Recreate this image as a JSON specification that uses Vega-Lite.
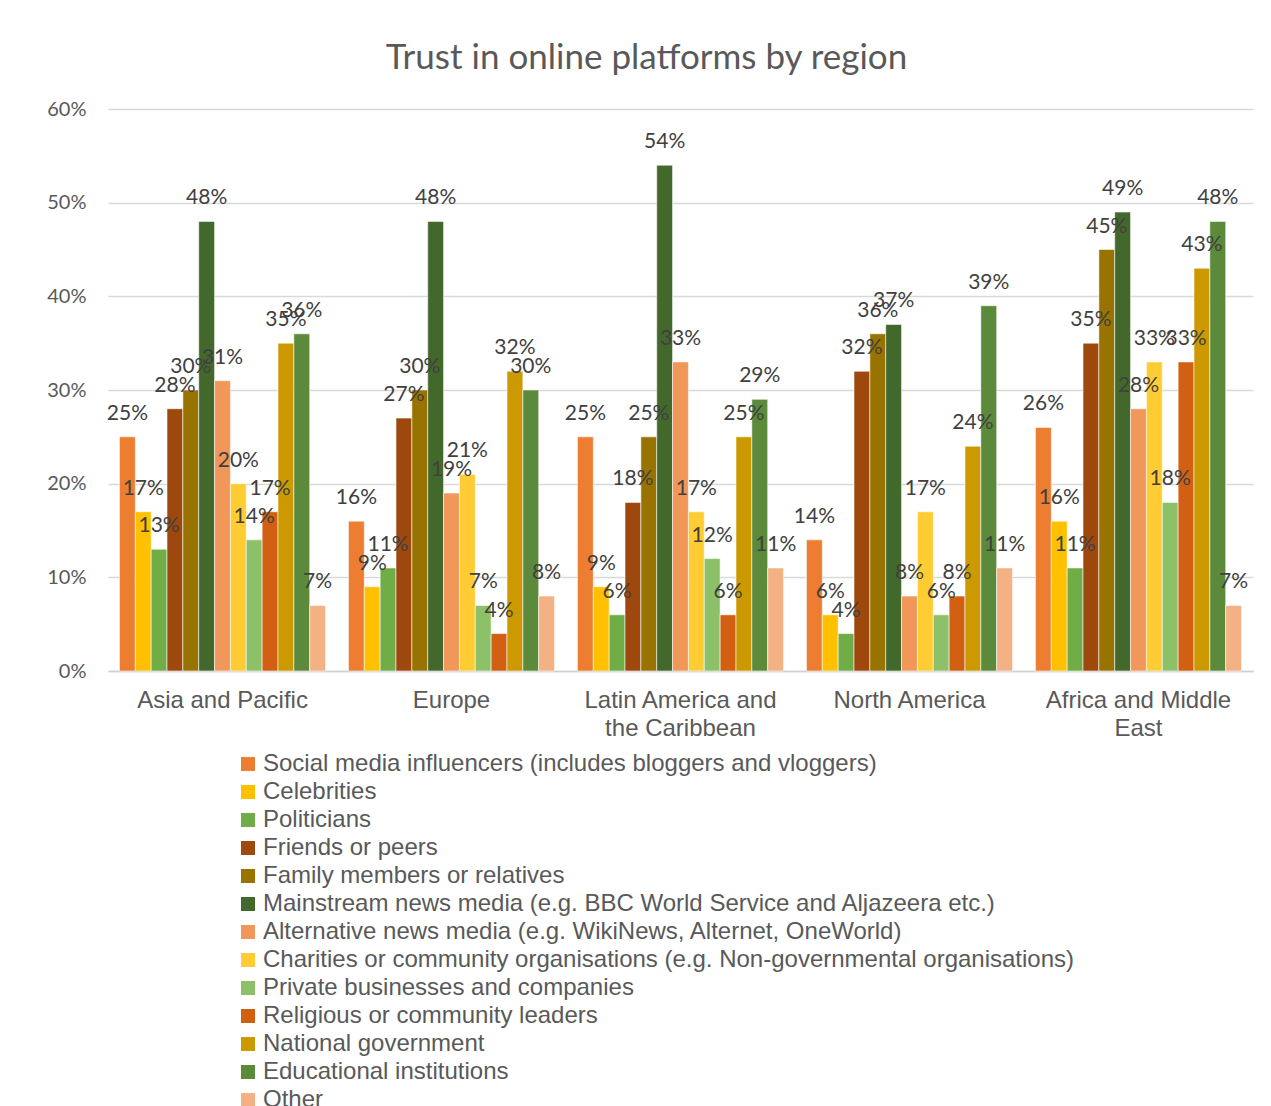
{
  "$schema": "https://vega.github.io/schema/vega-lite/v6.json",
  "autosize": "none",
  "width": 1145,
  "height": 562,
  "padding": {"left": 108, "top": 109, "right": 18, "bottom": 435},
  "background": "white",
  "title": {
    "text": "Trust in online platforms by region",
    "font": "Lato",
    "fontSize": 35,
    "fontWeight": "normal",
    "color": "#595959",
    "anchor": "middle",
    "dx": -34,
    "offset": 23
  },
  "data": {
    "values": [
      {"region": "Asia and Pacific", "source": "Social media influencers (includes bloggers and vloggers)", "value": 0.25},
      {"region": "Asia and Pacific", "source": "Celebrities", "value": 0.17},
      {"region": "Asia and Pacific", "source": "Politicians", "value": 0.13},
      {"region": "Asia and Pacific", "source": "Friends or peers", "value": 0.28},
      {"region": "Asia and Pacific", "source": "Family members or relatives", "value": 0.30},
      {"region": "Asia and Pacific", "source": "Mainstream news media (e.g. BBC World Service and Aljazeera etc.)", "value": 0.48},
      {"region": "Asia and Pacific", "source": "Alternative news media (e.g. WikiNews, Alternet, OneWorld)", "value": 0.31},
      {"region": "Asia and Pacific", "source": "Charities or community organisations (e.g. Non-governmental organisations)", "value": 0.20},
      {"region": "Asia and Pacific", "source": "Private businesses and companies", "value": 0.14},
      {"region": "Asia and Pacific", "source": "Religious or community leaders", "value": 0.17},
      {"region": "Asia and Pacific", "source": "National government", "value": 0.35},
      {"region": "Asia and Pacific", "source": "Educational institutions", "value": 0.36},
      {"region": "Asia and Pacific", "source": "Other", "value": 0.07},

      {"region": "Europe", "source": "Social media influencers (includes bloggers and vloggers)", "value": 0.16},
      {"region": "Europe", "source": "Celebrities", "value": 0.09},
      {"region": "Europe", "source": "Politicians", "value": 0.11},
      {"region": "Europe", "source": "Friends or peers", "value": 0.27},
      {"region": "Europe", "source": "Family members or relatives", "value": 0.30},
      {"region": "Europe", "source": "Mainstream news media (e.g. BBC World Service and Aljazeera etc.)", "value": 0.48},
      {"region": "Europe", "source": "Alternative news media (e.g. WikiNews, Alternet, OneWorld)", "value": 0.19},
      {"region": "Europe", "source": "Charities or community organisations (e.g. Non-governmental organisations)", "value": 0.21},
      {"region": "Europe", "source": "Private businesses and companies", "value": 0.07},
      {"region": "Europe", "source": "Religious or community leaders", "value": 0.04},
      {"region": "Europe", "source": "National government", "value": 0.32},
      {"region": "Europe", "source": "Educational institutions", "value": 0.30},
      {"region": "Europe", "source": "Other", "value": 0.08},

      {"region": "Latin America and the Caribbean", "source": "Social media influencers (includes bloggers and vloggers)", "value": 0.25},
      {"region": "Latin America and the Caribbean", "source": "Celebrities", "value": 0.09},
      {"region": "Latin America and the Caribbean", "source": "Politicians", "value": 0.06},
      {"region": "Latin America and the Caribbean", "source": "Friends or peers", "value": 0.18},
      {"region": "Latin America and the Caribbean", "source": "Family members or relatives", "value": 0.25},
      {"region": "Latin America and the Caribbean", "source": "Mainstream news media (e.g. BBC World Service and Aljazeera etc.)", "value": 0.54},
      {"region": "Latin America and the Caribbean", "source": "Alternative news media (e.g. WikiNews, Alternet, OneWorld)", "value": 0.33},
      {"region": "Latin America and the Caribbean", "source": "Charities or community organisations (e.g. Non-governmental organisations)", "value": 0.17},
      {"region": "Latin America and the Caribbean", "source": "Private businesses and companies", "value": 0.12},
      {"region": "Latin America and the Caribbean", "source": "Religious or community leaders", "value": 0.06},
      {"region": "Latin America and the Caribbean", "source": "National government", "value": 0.25},
      {"region": "Latin America and the Caribbean", "source": "Educational institutions", "value": 0.29},
      {"region": "Latin America and the Caribbean", "source": "Other", "value": 0.11},

      {"region": "North America", "source": "Social media influencers (includes bloggers and vloggers)", "value": 0.14},
      {"region": "North America", "source": "Celebrities", "value": 0.06},
      {"region": "North America", "source": "Politicians", "value": 0.04},
      {"region": "North America", "source": "Friends or peers", "value": 0.32},
      {"region": "North America", "source": "Family members or relatives", "value": 0.36},
      {"region": "North America", "source": "Mainstream news media (e.g. BBC World Service and Aljazeera etc.)", "value": 0.37},
      {"region": "North America", "source": "Alternative news media (e.g. WikiNews, Alternet, OneWorld)", "value": 0.08},
      {"region": "North America", "source": "Charities or community organisations (e.g. Non-governmental organisations)", "value": 0.17},
      {"region": "North America", "source": "Private businesses and companies", "value": 0.06},
      {"region": "North America", "source": "Religious or community leaders", "value": 0.08},
      {"region": "North America", "source": "National government", "value": 0.24},
      {"region": "North America", "source": "Educational institutions", "value": 0.39},
      {"region": "North America", "source": "Other", "value": 0.11},

      {"region": "Africa and Middle East", "source": "Social media influencers (includes bloggers and vloggers)", "value": 0.26},
      {"region": "Africa and Middle East", "source": "Celebrities", "value": 0.16},
      {"region": "Africa and Middle East", "source": "Politicians", "value": 0.11},
      {"region": "Africa and Middle East", "source": "Friends or peers", "value": 0.35},
      {"region": "Africa and Middle East", "source": "Family members or relatives", "value": 0.45},
      {"region": "Africa and Middle East", "source": "Mainstream news media (e.g. BBC World Service and Aljazeera etc.)", "value": 0.49},
      {"region": "Africa and Middle East", "source": "Alternative news media (e.g. WikiNews, Alternet, OneWorld)", "value": 0.28},
      {"region": "Africa and Middle East", "source": "Charities or community organisations (e.g. Non-governmental organisations)", "value": 0.33},
      {"region": "Africa and Middle East", "source": "Private businesses and companies", "value": 0.18},
      {"region": "Africa and Middle East", "source": "Religious or community leaders", "value": 0.33},
      {"region": "Africa and Middle East", "source": "National government", "value": 0.43},
      {"region": "Africa and Middle East", "source": "Educational institutions", "value": 0.48},
      {"region": "Africa and Middle East", "source": "Other", "value": 0.07}
    ]
  },
  "encoding": {
    "x": {
      "field": "region",
      "type": "nominal",
      "sort": ["Asia and Pacific", "Europe", "Latin America and the Caribbean", "North America", "Africa and Middle East"],
      "scale": {"paddingInner": 0.1, "paddingOuter": 0.05},
      "axis": {
        "title": null,
        "labelAngle": 0,
        "labelFont": "Liberation Sans",
        "labelFontSize": 24,
        "labelColor": "#595959",
        "labelPadding": 17,
        "labelLineHeight": 28,
        "labelBaseline": "top",
        "labelLimit": 400,
        "ticks": false,
        "domain": true,
        "domainColor": "#D0D0D0",
        "domainWidth": 1.5,
        "grid": false,
        "labelExpr": "datum.label == 'Latin America and the Caribbean' ? ['Latin America and', 'the Caribbean'] : datum.label == 'Africa and Middle East' ? ['Africa and Middle', 'East'] : datum.label"
      }
    },
    "xOffset": {
      "field": "source",
      "type": "nominal",
      "sort": [
        "Social media influencers (includes bloggers and vloggers)",
        "Celebrities",
        "Politicians",
        "Friends or peers",
        "Family members or relatives",
        "Mainstream news media (e.g. BBC World Service and Aljazeera etc.)",
        "Alternative news media (e.g. WikiNews, Alternet, OneWorld)",
        "Charities or community organisations (e.g. Non-governmental organisations)",
        "Private businesses and companies",
        "Religious or community leaders",
        "National government",
        "Educational institutions",
        "Other"
      ],
      "scale": {"paddingInner": 0, "paddingOuter": 0}
    },
    "y": {
      "field": "value",
      "type": "quantitative",
      "scale": {"domain": [0, 0.6], "nice": false},
      "axis": {
        "title": null,
        "values": [0, 0.1, 0.2, 0.3, 0.4, 0.5, 0.6],
        "format": ".0%",
        "labelFont": "Lato",
        "labelFontSize": 20,
        "labelColor": "#595959",
        "labelPadding": 22,
        "ticks": false,
        "domain": false,
        "grid": true,
        "gridColor": "#D9D9D9",
        "gridWidth": 1.5
      }
    }
  },
  "layer": [
    {
      "mark": {"type": "bar", "stroke": "white", "strokeWidth": 0.8, "strokeOpacity": 0.7},
      "encoding": {
        "color": {
          "field": "source",
          "type": "nominal",
          "scale": {
            "domain": [
              "Social media influencers (includes bloggers and vloggers)",
              "Celebrities",
              "Politicians",
              "Friends or peers",
              "Family members or relatives",
              "Mainstream news media (e.g. BBC World Service and Aljazeera etc.)",
              "Alternative news media (e.g. WikiNews, Alternet, OneWorld)",
              "Charities or community organisations (e.g. Non-governmental organisations)",
              "Private businesses and companies",
              "Religious or community leaders",
              "National government",
              "Educational institutions",
              "Other"
            ],
            "range": ["#ED7D31", "#FFC000", "#70AD47", "#9E480E", "#997300", "#43682B", "#F1975A", "#FFCD33", "#8CC168", "#D26012", "#CC9A00", "#5A8A3A", "#F4B183"]
          },
          "legend": {
            "title": null,
            "orient": "none",
            "legendX": 128,
            "legendY": 643,
            "direction": "vertical",
            "symbolType": "square",
            "symbolSize": 196,
            "symbolStrokeWidth": 0,
            "labelFont": "Liberation Sans",
            "labelFontSize": 24,
            "labelColor": "#595959",
            "labelLimit": 1000,
            "labelOffset": 3,
            "rowPadding": 4
          }
        }
      }
    },
    {
      "mark": {
        "type": "text",
        "baseline": "alphabetic",
        "align": "center",
        "dy": -17,
        "font": "Lato",
        "fontSize": 21,
        "color": "#404040"
      },
      "encoding": {
        "text": {"field": "value", "type": "quantitative", "format": ".0%"}
      }
    }
  ],
  "config": {
    "view": {"stroke": null}
  }
}
